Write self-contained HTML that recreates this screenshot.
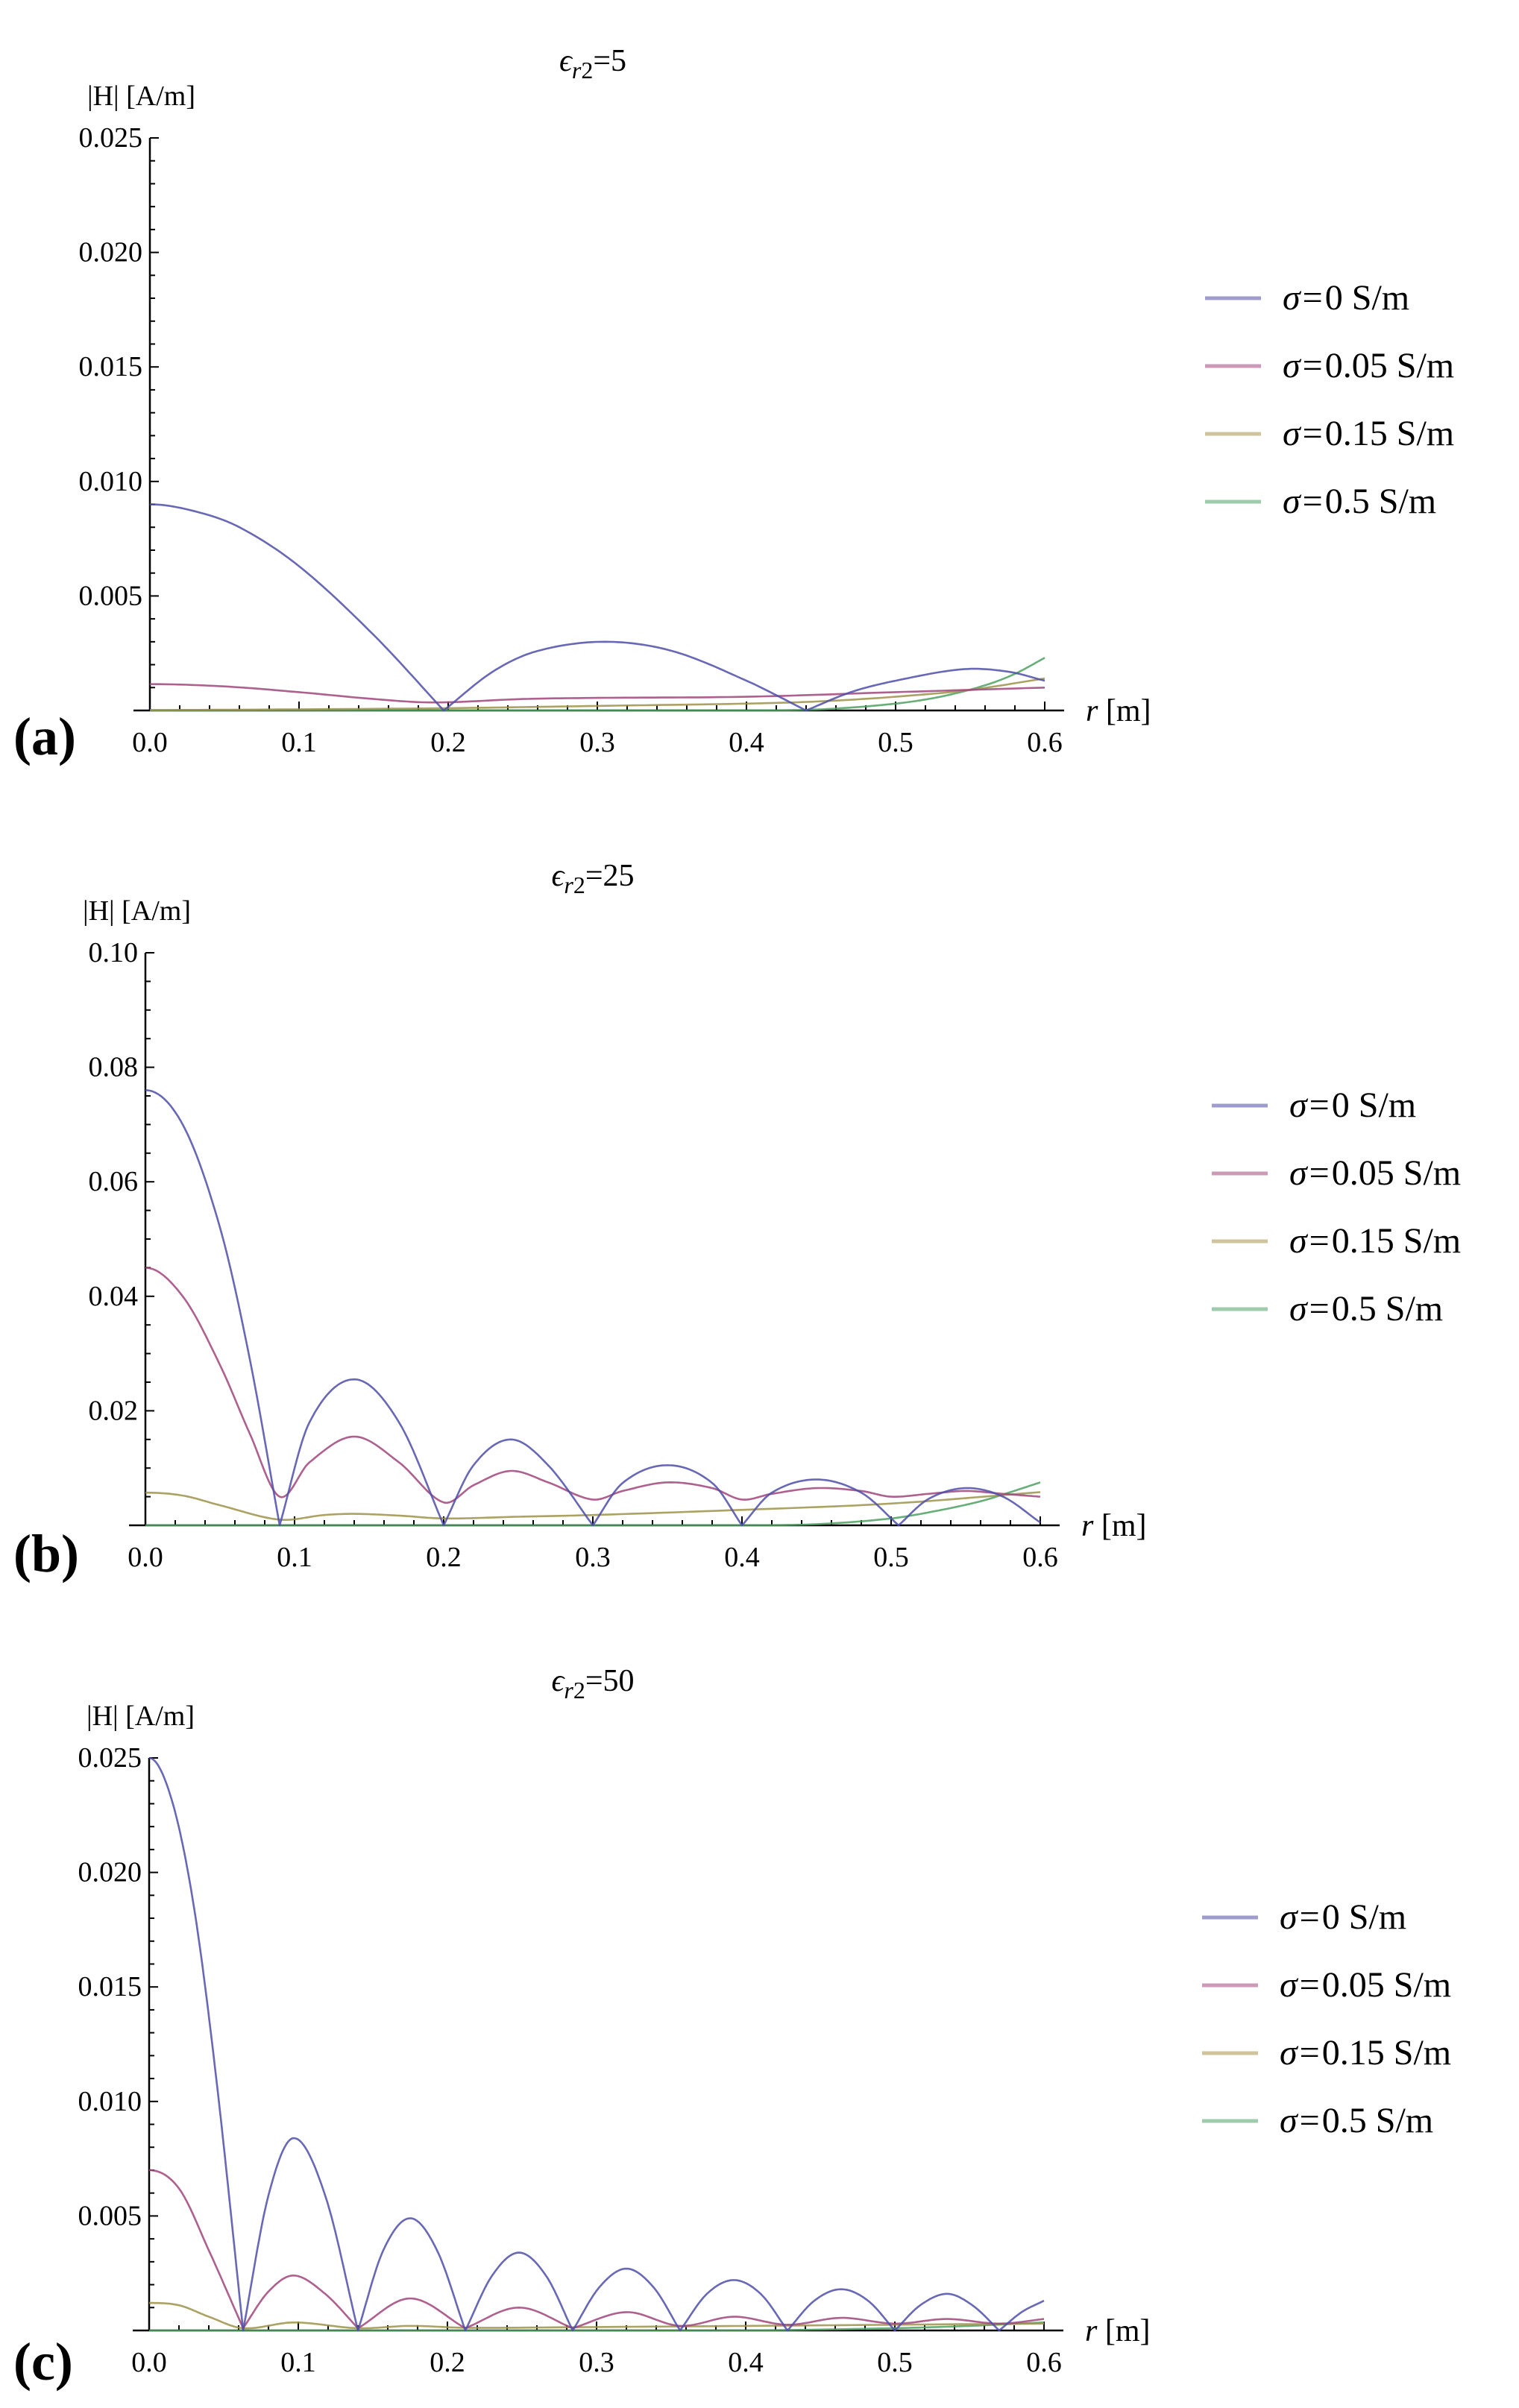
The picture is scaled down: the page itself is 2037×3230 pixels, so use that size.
<!DOCTYPE html>
<html><head><meta charset="utf-8"><style>
html,body{margin:0;padding:0;background:#fff;}
svg{display:block;font-family:"Liberation Serif",serif;}
svg text{font-family:"Liberation Serif",serif;}
</style></head><body>
<svg id="fig" width="2037" height="3230" viewBox="0 0 2037 3230" xmlns="http://www.w3.org/2000/svg" font-family="Liberation Serif, serif"></svg>
<script>
// ---------- DATA ----------
const seriesNames = ["σ=0 S/m","σ=0.05 S/m","σ=0.15 S/m","σ=0.5 S/m"];
const xTickLabels = ["0.0","0.1","0.2","0.3","0.4","0.5","0.6"];

// Panel (a) eps=5 (values in A/m)
const aYTicks = ["0.005","0.010","0.015","0.020","0.025"];
const aBlueX = [0,0.03,0.06,0.1,0.15,0.197,0.23,0.26,0.305,0.35,0.4,0.44,0.47,0.5,0.545,0.575,0.6];
const aBlueY = [0.0090,0.0087,0.0080,0.0063,0.0033,0,0.0017,0.0026,0.0030,0.0026,0.0013,0,0.0008,0.0013,0.0018,0.0017,0.0013];
const aPinkX = [0,0.05,0.1,0.15,0.19,0.25,0.3,0.4,0.5,0.6];
const aPinkY = [0.00115,0.00105,0.0008,0.0005,0.00035,0.0005,0.00055,0.0006,0.0008,0.001];
const aOliveX = [0,0.1,0.2,0.3,0.4,0.45,0.5,0.55,0.6];
const aOliveY = [0.00002,0.00005,0.0001,0.0002,0.0003,0.0004,0.0006,0.0009,0.0014];
const aGreenX = [0,0.2,0.4,0.45,0.5,0.53,0.56,0.58,0.6];
const aGreenY = [0,0,0,0.00005,0.0003,0.0006,0.0011,0.0016,0.0023];

// Panel (b) eps=25
const bYTicks = ["0.02","0.04","0.06","0.08","0.10"];
const bBlueX = [0,0.025,0.05,0.07,0.09,0.11,0.14,0.17,0.2,0.22,0.245,0.27,0.3,0.32,0.35,0.38,0.4,0.42,0.45,0.48,0.505,0.525,0.55,0.575,0.6];
const bBlueY = [0.076,0.070,0.052,0.029,0,0.018,0.0255,0.018,0,0.0105,0.015,0.0105,0,0.0074,0.0105,0.0074,0,0.0057,0.008,0.0057,0,0.0046,0.0065,0.005,0.0005];
const bPinkX = [0,0.025,0.05,0.07,0.09,0.11,0.14,0.17,0.2,0.22,0.245,0.27,0.3,0.32,0.35,0.38,0.4,0.42,0.45,0.48,0.5,0.525,0.55,0.575,0.6];
const bPinkY = [0.045,0.040,0.028,0.016,0.005,0.011,0.0155,0.011,0.004,0.007,0.0095,0.0075,0.0045,0.006,0.0075,0.0065,0.0045,0.0055,0.0065,0.006,0.005,0.0055,0.006,0.0055,0.005];
const bOliveX = [0,0.025,0.05,0.09,0.12,0.14,0.17,0.2,0.25,0.3,0.4,0.5,0.6];
const bOliveY = [0.0057,0.0052,0.0035,0.001,0.0018,0.002,0.0017,0.0012,0.0015,0.0018,0.0027,0.0038,0.0058];
const bGreenX = [0,0.2,0.4,0.45,0.5,0.53,0.56,0.58,0.6];
const bGreenY = [0,0,0,0.0002,0.0012,0.0025,0.0042,0.0058,0.0075];

// Panel (c) eps=50
const cYTicks = ["0.005","0.010","0.015","0.020","0.025"];
const cBlueX = [0,0.015,0.03,0.045,0.063,0.08,0.097,0.118,0.14,0.157,0.175,0.193,0.212,0.23,0.248,0.266,0.284,0.302,0.32,0.338,0.356,0.374,0.392,0.41,0.428,0.446,0.464,0.482,0.5,0.517,0.535,0.552,0.57,0.585,0.6];
const cBlueY = [0.025,0.0232,0.0185,0.0110,0,0.0059,0.0084,0.0059,0,0.0035,0.0049,0.0035,0,0.0024,0.0034,0.0024,0,0.0019,0.0027,0.0019,0,0.0016,0.0022,0.0016,0,0.0013,0.0018,0.0013,0,0.0011,0.0016,0.0011,0,0.0008,0.0013];
const cPinkX = [0,0.02,0.04,0.063,0.08,0.097,0.118,0.14,0.175,0.212,0.248,0.284,0.32,0.356,0.392,0.428,0.464,0.5,0.535,0.57,0.6];
const cPinkY = [0.0070,0.0062,0.0035,0.0001,0.0017,0.0024,0.0016,0.0001,0.0014,0.0001,0.0010,0.0001,0.0008,0.0002,0.0006,0.00025,0.00055,0.0003,0.0005,0.0003,0.0005];
const cOliveX = [0,0.02,0.04,0.063,0.097,0.14,0.175,0.212,0.3,0.4,0.5,0.6];
const cOliveY = [0.0012,0.0011,0.0006,0.0001,0.00035,0.0001,0.0002,0.00012,0.00015,0.0002,0.00025,0.0003];
const cGreenX = [0,0.2,0.4,0.5,0.55,0.6];
const cGreenY = [0,0,0,0.0001,0.0002,0.00035];

// ---------- DRAWING ----------
const NS = "http://www.w3.org/2000/svg";
const svg = document.getElementById("fig");
const FONT = "Liberation Serif, serif";
const lineCols = ["#4d4daa","#a0457a","#9c9248","#4ea062"];
const legCols = ["#9d9ccd","#cc9ab6","#cfc49c","#9dcbab"];
function mk(tag, attrs, parent){const e=document.createElementNS(NS,tag);for(const k in attrs)e.setAttribute(k,attrs[k]);if(tag==="text")e.setAttribute("font-family",FONT);(parent||svg).appendChild(e);return e;}

function hermitePath(xs, ys, sx, sy){
  const n=xs.length; const tl=[],tr=[];
  for(let i=0;i<n;i++){
    const sl = i>0 ? (ys[i]-ys[i-1])/(xs[i]-xs[i-1]) : null;
    const sr = i<n-1 ? (ys[i+1]-ys[i])/(xs[i+1]-xs[i]) : null;
    let t;
    if(sl===null) t=0; else if(sr===null) t=sl;
    else t=(ys[i+1]-ys[i-1])/(xs[i+1]-xs[i-1]);
    const cusp = sl!==null && sr!==null && sl<0 && sr>0 && ys[i] < 0.15*Math.max(ys[i-1],ys[i+1]);
    if(cusp){tl.push(sl);tr.push(sr);} else {tl.push(t);tr.push(t);}
  }
  let d="M"+sx(xs[0]).toFixed(1)+","+sy(ys[0]).toFixed(1);
  for(let i=0;i<n-1;i++){
    const h=xs[i+1]-xs[i];
    for(let k=1;k<=16;k++){
      const t=k/16,t2=t*t,t3=t2*t;
      let y=(2*t3-3*t2+1)*ys[i]+(t3-2*t2+t)*h*tr[i]+(-2*t3+3*t2)*ys[i+1]+(t3-t2)*h*tl[i+1];
      if(y<0)y=0;
      d+=" L"+sx(xs[i]+t*h).toFixed(1)+","+sy(y).toFixed(1);
    }
  }
  return d;
}

function panel(p){
  const g=mk("g",{});
  
  
  const x0=p.x0, y0=p.y0, H=768;
  const sx=v=>x0+v*2000;
  const sy=v=>y0-v/p.ymax*H;
  const t=mk("text",{x:p.tx,y:y0-858,"font-size":42,"text-anchor":"middle"},g);
  
  
  t.innerHTML='<tspan font-style="italic">ϵ</tspan><tspan font-style="italic" font-size="32" dy="10">r</tspan><tspan font-size="32">2</tspan><tspan dy="-10">='+p.eps+'</tspan>';
  const yl=mk("text",{x:x0-84,y:y0-812,"font-size":38},g);
  
  
  yl.textContent="|H| [A/m]";
  const ax=mk("line",{x1:x0-22,y1:y0,x2:x0+1226,y2:y0,stroke:"#000","stroke-width":2.5},g);
  
  
  const ay=mk("line",{x1:x0,y1:y0,x2:x0,y2:y0-H,stroke:"#000","stroke-width":2.5},g);
  
  
  for(let i=0;i<=30;i++){
    const v=i*0.02, major=i%5===0;
    mk("line",{x1:sx(v),y1:y0,x2:sx(v),y2:y0-(major?12:7),stroke:"#000","stroke-width":2},g);
  }
  xTickLabels.forEach((s,i)=>{
    const tx=mk("text",{x:sx(i*0.1),y:y0+55,"font-size":38,"text-anchor":"middle"},g);
    
    
    tx.textContent=s;
  });
  const nMinor=p.minor;
  for(let i=0;i<=5*nMinor;i++){
    const v=i*p.ymax/(5*nMinor), major=i%nMinor===0;
    mk("line",{x1:x0,y1:sy(v),x2:x0+(major?12:7),y2:sy(v),stroke:"#000","stroke-width":2},g);
  }
  p.yt.forEach((s,i)=>{
    const ty=mk("text",{x:x0-10,y:sy((i+1)*p.ymax/5)+12,"font-size":38,"text-anchor":"end"},g);
    
    
    ty.textContent=s;
  });
  const xt=mk("text",{x:x0+1255,y:y0+14,"font-size":42},g);
  
  
  xt.innerHTML='<tspan font-style="italic">r</tspan> [m]';
  for(let s=3;s>=0;s--){
    const pa=mk("path",{d:hermitePath(p.xs[s],p.ys[s],sx,sy),fill:"none",stroke:lineCols[s],"stroke-width":2.6,"stroke-opacity":0.85,"stroke-linejoin":"round"},g);
    
    
  }
  for(let s=0;s<4;s++){
    const ly=y0+p.legY+s*91;
    const ll=mk("line",{x1:p.legX,y1:ly,x2:p.legX+75,y2:ly,stroke:legCols[s],"stroke-width":5},g);
    
    
    const lt=mk("text",{x:p.legX+104,y:ly+15,"font-size":48},g);
    
    
    const parts=seriesNames[s].split("=");
    lt.innerHTML='<tspan font-style="italic">σ</tspan><tspan dx="3">=</tspan><tspan dx="3">'+parts[1]+'</tspan>';
  }
  const pl=mk("text",{x:18,y:p.labY,"font-size":72,"font-weight":"bold"},g);
  
  
  pl.textContent="("+p.id+")";
}

panel({id:"a",eps:"5",x0:201,y0:953,ymax:0.025,minor:5,yt:aYTicks,tx:795,legX:1616,legY:-553,labY:1012,
  xs:[aBlueX,aPinkX,aOliveX,aGreenX],ys:[aBlueY,aPinkY,aOliveY,aGreenY]});
panel({id:"b",eps:"25",x0:195,y0:2046,ymax:0.10,minor:4,yt:bYTicks,tx:795,legX:1625,legY:-563,labY:2108,
  xs:[bBlueX,bPinkX,bOliveX,bGreenX],ys:[bBlueY,bPinkY,bOliveY,bGreenY]});
panel({id:"c",eps:"50",x0:200,y0:3126,ymax:0.025,minor:5,yt:cYTicks,tx:795,legX:1612,legY:-554,labY:3192,
  xs:[cBlueX,cPinkX,cOliveX,cGreenX],ys:[cBlueY,cPinkY,cOliveY,cGreenY]});
</script>
</body></html>
